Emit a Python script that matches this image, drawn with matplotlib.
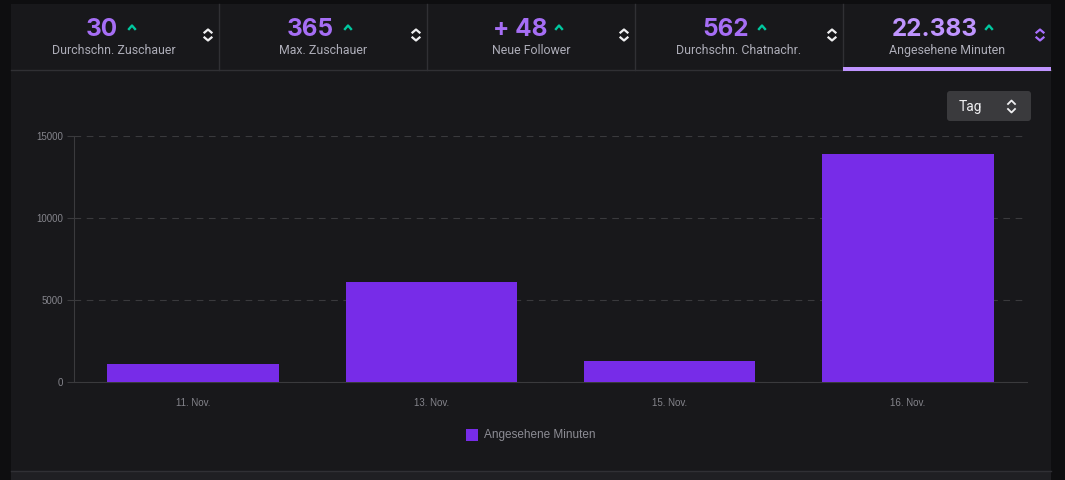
"""Angesehene Minuten bar chart inside a dark stats panel."""

import matplotlib.pyplot as plt
from matplotlib.patches import FancyBboxPatch, Rectangle

plt.rcParams["font.family"] = ["Inter", "DejaVu Sans"]

W, H = 1065, 480

days = ["11. Nov.", "13. Nov.", "15. Nov.", "16. Nov."]
minutes = [1100, 6100, 1280, 13900]
y_ticks = [0, 5000, 10000, 15000]

stat_values = ["30", "365", "+ 48", "562", "22.383"]
stat_labels = ["Durchschn. Zuschauer", "Max. Zuschauer", "Neue Follower",
               "Durchschn. Chatnachr.", "Angesehene Minuten"]

PANEL = "#18181b"
OUTER = "#0e0e10"
PURPLE = "#772ce8"
LIGHT = "#a970ff"
LINE = "#303034"

fig = plt.figure(figsize=(W / 100, H / 100), dpi=100, facecolor=OUTER)

# overlay in pixel coords for the panel and the header strip
ui = fig.add_axes([0, 0, 1, 1])
ui.set_xlim(0, W)
ui.set_ylim(H, 0)
ui.axis("off")
ui.add_patch(Rectangle((11, 4), 1040, 476, fc=PANEL, ec="none"))
ui.add_patch(Rectangle((11, 472), 1040, 8, fc="#1f1f23", ec="none"))
ui.plot([11, 1051], [471, 471], color="#303035", lw=1)
ui.plot([11, 1051], [70, 70], color=LINE, lw=1)
ui.add_patch(Rectangle((843, 67), 208, 3.5, fc="#bf94ff", ec="none", zorder=3))


def chevrons(x, y, color):
    ui.plot([x - 3.5, x, x + 3.5], [y - 2.5, y - 5.5, y - 2.5], color=color, lw=1.6)
    ui.plot([x - 3.5, x, x + 3.5], [y + 2.5, y + 5.5, y + 2.5], color=color, lw=1.6)


tile_left = [11, 219, 427, 635, 843]
tile_text = [114, 323, 531, 739, 947]
value_x = [102, 310, 520, 726, 935]
arrow_x = [132, 348, 559, 762, 989]
for i in range(5):
    if i > 0:
        ui.plot([tile_left[i] - 0.5] * 2, [4, 70], color=LINE, lw=1)
    value_color = "#bf94ff" if i == 4 else "#a66ef5"
    ui.text(value_x[i], 29, stat_values[i], color=value_color, fontsize=17.5,
            fontweight="bold", ha="center", va="center")
    ui.text(tile_text[i], 50.5, stat_labels[i], color="#adadb8", fontsize=8.9,
            family="Roboto", ha="center", va="center")
    ax_x = arrow_x[i]
    ui.plot([ax_x - 3, ax_x, ax_x + 3], [29, 25.5, 29], color="#00c8a0", lw=1.7)
    chevrons(tile_left[i] + 197, 35, LIGHT if i == 4 else "#efeff1")

# "Tag" dropdown
ui.add_patch(FancyBboxPatch((947, 91), 84, 30, boxstyle="round,pad=0,rounding_size=3",
                            fc="#3a3a3d", ec="none"))
ui.text(959, 106.5, "Tag", color="#efeff1", fontsize=10, family="Roboto",
        ha="left", va="center")
ui.plot([1008, 1011.5, 1015], [104, 100.5, 104], color="#efeff1", lw=1.3)
ui.plot([1008, 1011.5, 1015], [109, 112.5, 109], color="#efeff1", lw=1.3)

# legend
ui.add_patch(Rectangle((465.5, 429), 12, 12, fc=PURPLE, ec="none"))
ui.text(483.5, 435, "Angesehene Minuten", color="#8c8c94", fontsize=8.5,
        family="Liberation Sans", ha="left", va="center")

# chart area: x 74-1027, y 136-382 px
ax = fig.add_axes([74 / W, 1 - 382 / H, 953 / W, 246 / H], facecolor="none")
ax.bar(range(len(days)), minutes, width=0.72, color=PURPLE, zorder=3)
ax.set_xlim(-0.5, 3.5)
ax.set_ylim(0, 15000)
ax.set_xticks(range(len(days)), days)
ax.set_yticks(y_ticks)
ax.grid(axis="y", color="#3a3a3d", lw=0.8, ls=(0, (6, 5)))
ax.tick_params(axis="x", length=0, pad=11.5, labelsize=7, labelcolor="#85858c")
ax.tick_params(axis="y", length=5, width=0.8, color="#3a3a3d", pad=3,
               labelsize=7, labelcolor="#85858c")
for label in ax.get_xticklabels() + ax.get_yticklabels():
    label.set_family("Liberation Sans")
ax.spines[["top", "right"]].set_visible(False)
ax.spines[["left", "bottom"]].set_color("#3a3a3d")
ax.spines[["left", "bottom"]].set_linewidth(0.8)

plt.savefig("out.png", dpi=100, facecolor=OUTER)
plt.close(fig)
